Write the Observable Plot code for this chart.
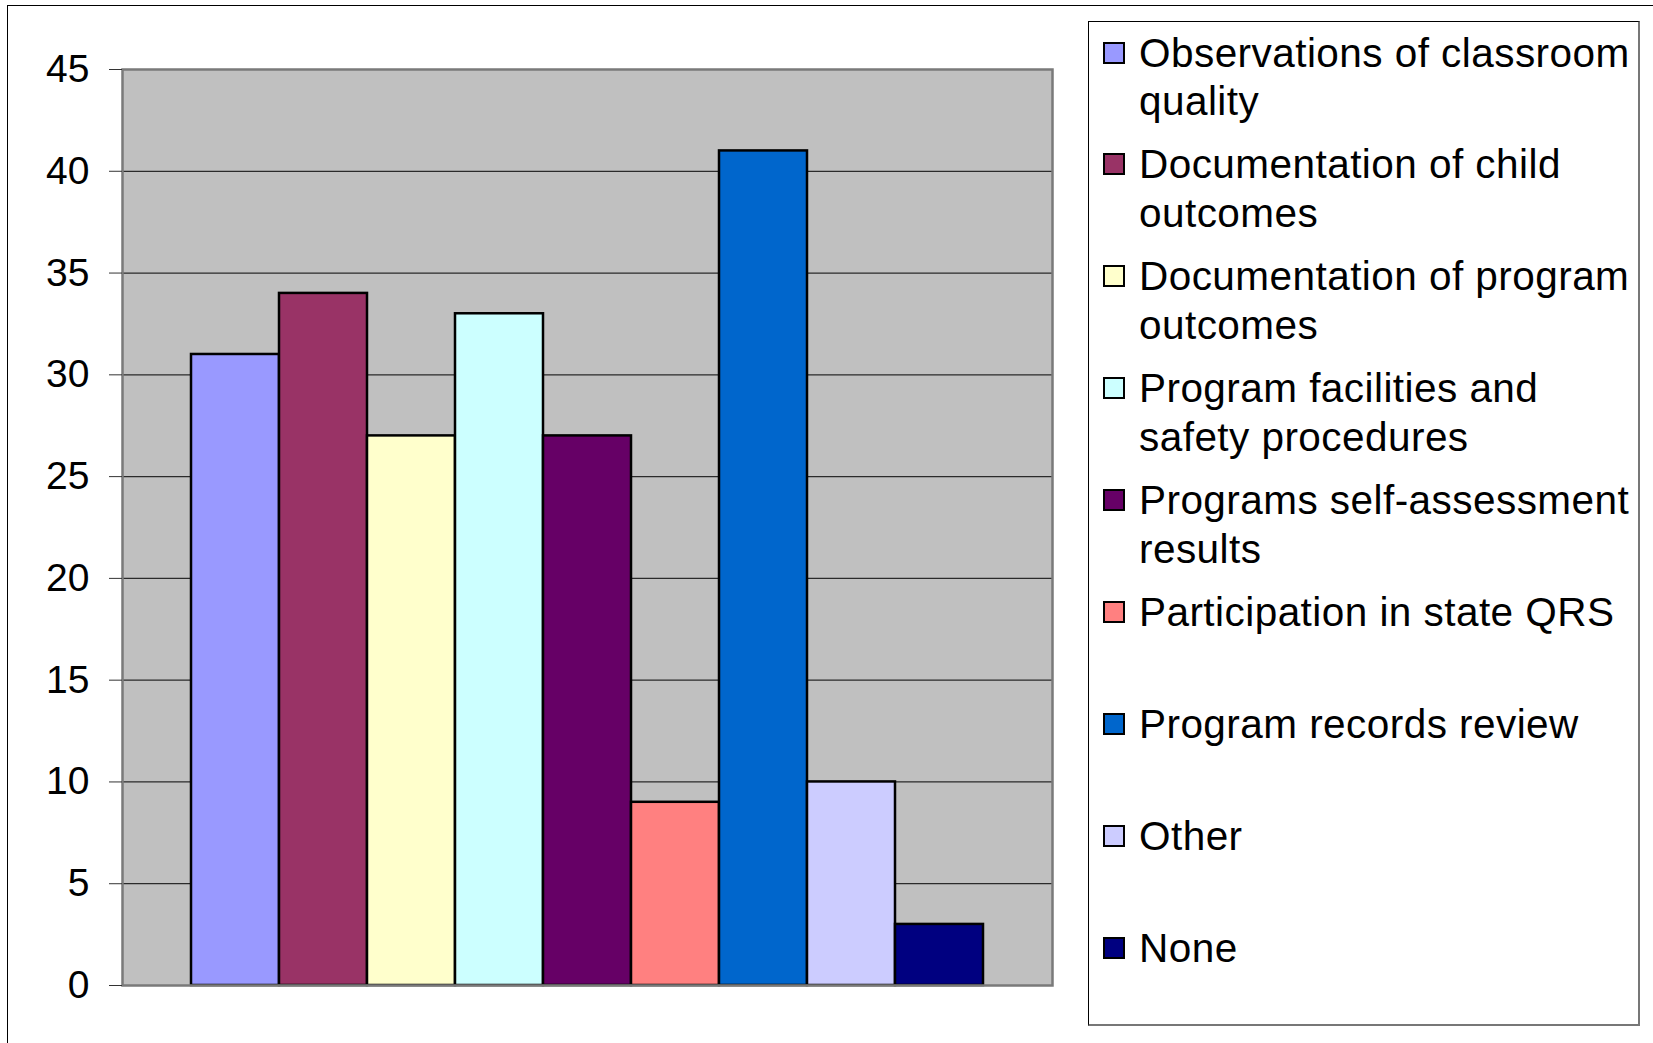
<!DOCTYPE html>
<html>
<head>
<meta charset="utf-8">
<script src="https://cdn.jsdelivr.net/npm/d3@7"></script>
<script src="https://cdn.jsdelivr.net/npm/@observablehq/plot@0.6"></script>
<style>
  html, body { margin: 0; padding: 0; background: #fff; }
  #wrap { position: relative; width: 1653px; height: 1043px; overflow: hidden; font-family: "Liberation Sans", Arial, sans-serif; }
  #outer { position: absolute; left: 7px; top: 5px; width: 1660px; height: 1100px; border: 1.5px solid #000; box-sizing: border-box; }
  #chart { position: absolute; left: 0; top: 0; }
  #legend { position: absolute; left: 1088px; top: 21px; width: 552px; height: 1005px; border: 1px solid #000; border-right-color: #777; border-bottom-color: #777; border-right-width: 2px; border-bottom-width: 2px; box-sizing: border-box; background: #fff; }
  .item { position: absolute; left: 0; width: 100%; }
  .sw { position: absolute; left: 14px; width: 18px; height: 18px; border: 2px solid #000; }
  .lab { position: absolute; left: 50px; width: 496px; font-size: 40.5px; letter-spacing: 0.45px; line-height: 48.6px; color: #000; }
</style>
</head>
<body>
<div id="wrap">
  <div id="outer"></div>
  <div id="chart"></div>
  <div id="legend"></div>
</div>
<script>
const categories = [
  "Observations of classroom quality",
  "Documentation of child outcomes",
  "Documentation of program outcomes",
  "Program facilities and safety procedures",
  "Programs self-assessment results",
  "Participation in state QRS",
  "Program records review",
  "Other",
  "None"
];
const values = [31, 34, 27, 33, 27, 9, 41, 10, 3];
const colors = ["#9999FF", "#993366", "#FFFFCC", "#CCFFFF", "#660066", "#FF8080", "#0066CC", "#CCCCFF", "#000080"];
const yTicks = [0, 5, 10, 15, 20, 25, 30, 35, 40, 45];

const data = categories.map((name, i) => ({name, value: values[i]}));

const plot = Plot.plot({
  width: 1080,
  height: 1043,
  marginLeft: 122,
  marginRight: 28,
  marginTop: 69,
  marginBottom: 58,
  x: {domain: categories, paddingInner: 0, paddingOuter: 0.75, axis: null},
  y: {domain: [0, 45], axis: null},
  color: {domain: categories, range: colors},
  style: {fontFamily: "'Liberation Sans', Arial, sans-serif", fontSize: "39px", color: "#000", background: "transparent", overflow: "visible"},
  marks: [
    Plot.frame({fill: "#C0C0C0"}),
    Plot.ruleY(yTicks.filter(d => d > 0 && d < 45), {stroke: "#2a2a2a", strokeWidth: 1.2}),
    Plot.barY(data, {x: "name", y: "value", fill: "name", stroke: "#000", strokeWidth: 2.5}),
    Plot.frame({stroke: "#7a7a7a", strokeWidth: 2.5}),
    Plot.axisY(yTicks, {tickSize: 13, tickPadding: 20, fontSize: 39, stroke: "#333", label: null})
  ]
});
document.getElementById("chart").appendChild(plot);

const legend = document.getElementById("legend");
const firstTop = 6.5, step = 111.9;
categories.forEach((name, i) => {
  const item = document.createElement("div");
  item.className = "item";
  item.style.top = (firstTop + i * step) + "px";
  const sw = document.createElement("div");
  sw.className = "sw";
  sw.style.top = "13px";
  sw.style.background = colors[i];
  const lab = document.createElement("div");
  lab.className = "lab";
  lab.style.top = "0px";
  lab.textContent = name;
  item.appendChild(sw);
  item.appendChild(lab);
  legend.appendChild(item);
});
</script>
</body>
</html>
